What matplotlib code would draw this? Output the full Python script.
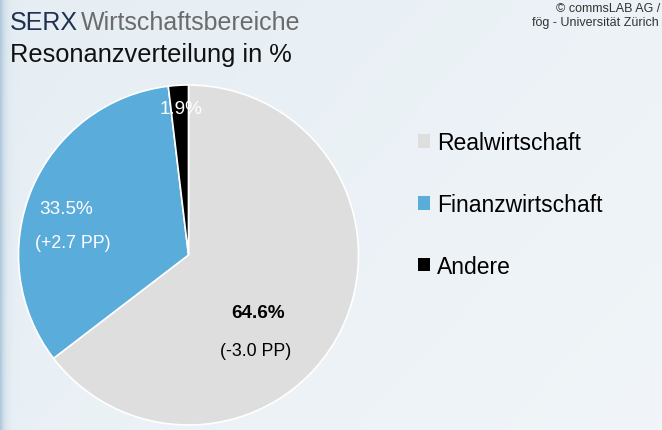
import numpy as np
import matplotlib.pyplot as plt
from matplotlib.patches import Patch

# Data
sectors = ['Realwirtschaft', 'Finanzwirtschaft', 'Andere']
shares = [64.6, 33.5, 1.9]
changes = ['(-3.0 PP)', '(+2.7 PP)', None]
colors = ['#dedede', '#5aacdb', '#000000']
label_colors = ['black', 'white', 'white']

plt.rcParams['font.family'] = ['Liberation Sans', 'DejaVu Sans']

W, H = 662, 431
fig = plt.figure(figsize=(W / 100, H / 100), dpi=100)

# background: pale blue gradient with a darker strip on the left
bg = fig.add_axes([0, 0, 1, 1])
xx, yy = np.meshgrid(np.linspace(0, 1, 400), np.linspace(0, 1, 260))
c0 = np.array([0.90, 0.933, 0.955])
c1 = np.array([0.955, 0.968, 0.98])
t = np.clip(0.5 * xx + 0.3 * yy, 0, 1)[..., None]
img = c0 * (1 - t) + c1 * t
strip = np.exp(-(xx * W) / 4.0)[..., None]
img = img * (1 - strip) + np.array([0.70, 0.79, 0.86]) * strip
bg.imshow(img, extent=[0, 1, 0, 1], aspect='auto', origin='upper')
bg.set_axis_off()

# pie
cx, cy, r = 188.5, 256, 170
ax = fig.add_axes([(cx - r) / W, (H - cy - r) / H, 2 * r / W, 2 * r / H])
wedges, _ = ax.pie(shares, colors=colors, startangle=90, counterclock=False,
                   wedgeprops=dict(edgecolor='white', linewidth=1.2))
ax.set_xlim(-1, 1)
ax.set_ylim(-1, 1)
ax.set_aspect('equal')
ax.set_axis_off()

pct_pos = [(0.41, -0.34), (-0.718, 0.274), (-0.044, 0.862)]
chg_pos = [(0.397, -0.562), (-0.682, 0.074), None]
for i in range(len(shares)):
    ax.text(*pct_pos[i], f'{shares[i]:.1f}%', ha='center', va='center',
            fontsize=13.6, color=label_colors[i],
            fontweight='bold' if i == 0 else 'normal')
    if changes[i]:
        ax.text(*chg_pos[i], changes[i], ha='center', va='center',
                fontsize=12.8, color=label_colors[i])

# titles
fig.text(10 / W, 1 - 29.5 / H, 'SERX', fontsize=18, color='#1f3050',
         ha='left', va='baseline')
fig.text(81 / W, 1 - 29.5 / H, 'Wirtschaftsbereiche', fontsize=18,
         color='#6b6b6b', ha='left', va='baseline')
fig.text(10 / W, 1 - 62.5 / H, 'Resonanzverteilung in %', fontsize=18.3,
         color='#111111', ha='left', va='baseline')
fig.text(660 / W, 1 - 12 / H, '© commsLAB AG /', fontsize=9, color='#333333',
         ha='right', va='baseline')
fig.text(659 / W, 1 - 26 / H, 'fög - Universität Zürich', fontsize=9,
         color='#333333', ha='right', va='baseline')

# legend
handles = [Patch(facecolor=c, edgecolor='none') for c in colors]
fig.legend(handles, sectors, loc='upper left',
           bbox_to_anchor=(418 / W, 1 - 132 / H), frameon=False,
           fontsize=16.5, handlelength=0.52, handleheight=0.52,
           handletextpad=0.3, labelspacing=1.7, borderpad=0,
           borderaxespad=0)

fig.savefig('out.png', dpi=100)
